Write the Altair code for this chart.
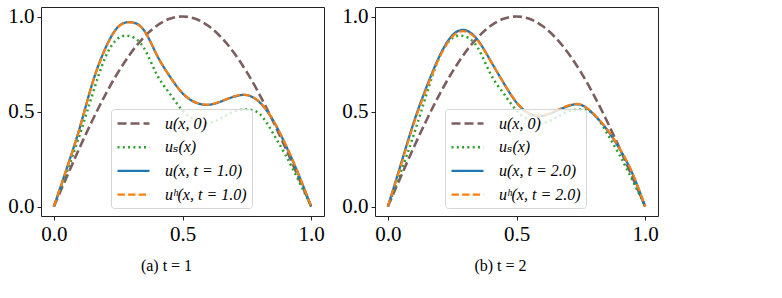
import altair as alt
import pandas as pd

# sample positions
x_vals = [0.00, 0.05, 0.10, 0.15, 0.20, 0.25, 0.30, 0.35, 0.40, 0.45, 0.50,
          0.55, 0.60, 0.65, 0.70, 0.75, 0.80, 0.85, 0.90, 0.95, 1.00]

# initial condition u(x,0)
u0_vals = [0.000, 0.156, 0.309, 0.454, 0.588, 0.707, 0.809, 0.891, 0.951, 0.988, 1.000,
           0.988, 0.951, 0.891, 0.809, 0.707, 0.588, 0.454, 0.309, 0.156, 0.000]
# steady state u_s(x)
us_vals = [0.000, 0.180, 0.375, 0.590, 0.785, 0.885, 0.895, 0.835, 0.695, 0.595, 0.505,
           0.455, 0.440, 0.465, 0.500, 0.510, 0.487, 0.390, 0.272, 0.140, 0.000]
# panel (a): t = 1
u1_vals = [0.000, 0.200, 0.412, 0.650, 0.832, 0.946, 0.970, 0.928, 0.798, 0.686, 0.596,
           0.548, 0.535, 0.553, 0.578, 0.586, 0.548, 0.458, 0.326, 0.172, 0.000]
uh1_vals = [0.000, 0.198, 0.410, 0.648, 0.830, 0.945, 0.969, 0.928, 0.799, 0.687, 0.597,
            0.549, 0.536, 0.554, 0.579, 0.587, 0.549, 0.460, 0.328, 0.174, 0.000]
# panel (b): t = 2
u2_vals = [0.000, 0.220, 0.440, 0.628, 0.789, 0.900, 0.928, 0.875, 0.765, 0.650, 0.547,
           0.488, 0.477, 0.500, 0.528, 0.535, 0.485, 0.408, 0.305, 0.175, 0.000]
uh2_vals = [0.000, 0.214, 0.432, 0.620, 0.782, 0.893, 0.922, 0.872, 0.764, 0.651, 0.549,
            0.491, 0.480, 0.503, 0.531, 0.537, 0.488, 0.411, 0.308, 0.178, 0.000]

tick_vals = [0.0, 0.5, 1.0]
captions = ["(a) t = 1", "(b) t = 2"]
colors = ["#7d5e5e", "#2ca02c", "#1f77b4", "#ff7f0e"]
dashes = [[9, 4], [2, 3.3], [1, 0], [7.4, 3.2]]
widths = [2.6, 2.2, 2.4, 2.4]

SERIF = "Liberation Serif, DejaVu Serif, serif"


def panel(u_vals, uh_vals, tlabel, caption):
    names = ["u(x, 0)", "uₛ(x)", f"u(x, t = {tlabel})", f"uʰ(x, t = {tlabel})"]
    series = [u0_vals, us_vals, u_vals, uh_vals]
    rows = []
    for name, vals in zip(names, series):
        for xv, yv in zip(x_vals, vals):
            rows.append({"x": xv, "y": yv, "series": name})
    df = pd.DataFrame(rows)

    leg = alt.Legend(title=None, orient="none", legendX=70, legendY=102)
    xenc = alt.X("x:Q", scale=alt.Scale(domain=[-0.05, 1.05], nice=False, zero=False),
                 axis=alt.Axis(values=tick_vals, format=".1f", title=None))
    yenc = alt.Y("y:Q", scale=alt.Scale(domain=[-0.05, 1.05], nice=False, zero=False),
                 axis=alt.Axis(values=tick_vals, format=".1f", title=None))
    cenc = alt.Color("series:N", scale=alt.Scale(domain=names, range=colors), legend=leg)
    denc = alt.StrokeDash("series:N", scale=alt.Scale(domain=names, range=dashes), legend=leg)
    wenc = alt.StrokeWidth("series:N", scale=alt.Scale(domain=names, range=widths), legend=leg)

    layers = []
    for name in names:
        layers.append(
            alt.Chart(df).transform_filter(alt.datum.series == name)
            .mark_line(interpolate="natural", strokeCap="butt")
            .encode(x=xenc, y=yenc, color=cenc, strokeDash=denc, strokeWidth=wenc)
        )
    return alt.layer(*layers).properties(
        width=283, height=209,
        title=alt.TitleParams(caption, orient="bottom", anchor="middle", dx=-16,
                              offset=14, font=SERIF, fontSize=16, fontWeight="normal",
                              color="black"),
    )


chart = alt.hconcat(
    panel(u1_vals, uh1_vals, "1.0", captions[0]),
    panel(u2_vals, uh2_vals, "2.0", captions[1]),
    spacing=16,
).resolve_scale(
    color="independent", strokeDash="independent", strokeWidth="independent"
).resolve_legend(
    color="independent", strokeDash="independent", strokeWidth="independent"
).properties(
    padding={"left": 7, "top": 5, "right": 5, "bottom": 5},
    background="white",
).configure_view(
    stroke="#222222", strokeWidth=1
).configure_axis(
    labelFont=SERIF, labelFontSize=21, labelColor="black", labelPadding=3,
    tickSize=4, tickColor="#222222", domain=False, grid=False,
).configure_legend(
    fillColor="rgba(255,255,255,0.8)", strokeColor="#d6d6d6", cornerRadius=3,
    padding=5, labelFont=SERIF, labelFontSize=16, labelFontStyle="italic",
    labelColor="black", symbolType="M-2,0H2", symbolSize=256, symbolStrokeWidth=2.4,
    symbolFillColor="transparent", symbolOffset=8, labelOffset=22, rowPadding=5.7,
)

chart.save("out.html", embed_options={"renderer": "svg", "actions": False})
